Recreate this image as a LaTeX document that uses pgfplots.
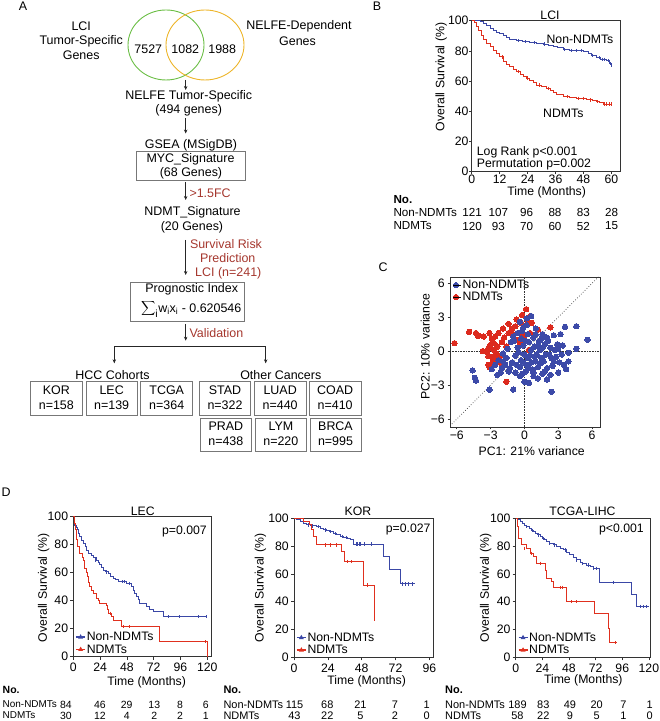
\documentclass[border=0pt]{standalone}
\usepackage{fontspec}
\setmainfont{Liberation Sans}
\usepackage{pgfplots}
\pgfplotsset{compat=1.18}
\usetikzlibrary{arrows.meta}
\definecolor{kmblue}{HTML}{3A47A6}
\definecolor{kmred}{HTML}{E0301E}
\definecolor{ptblue}{HTML}{3C4AA8}
\definecolor{ptred}{HTML}{DC2A1E}
\definecolor{vgreen}{HTML}{6BBE45}
\definecolor{vorange}{HTML}{EDB52A}
\definecolor{annot}{HTML}{A5372E}
\definecolor{boxgray}{HTML}{777777}
\newcommand\fs{\fontsize{12.3}{14}\selectfont}
\newcommand\fa{\fontsize{12.5}{14}\selectfont}
\newcommand\ft{\fontsize{11.7}{13}\selectfont}
\newcommand\ftl{\fontsize{10}{12}\selectfont}
\newcommand\ftn{\fontsize{10.5}{12}\selectfont}
\newcommand\ftk{\fontsize{11}{12}\selectfont}
\pgfplotsset{
  base/.style={scale only axis, axis line style={black!80, line width=0.6pt},
    tick style={black!80, line width=0.6pt}, tick align=outside, major tick length=2.5bp,
    tick pos=left, ticklabel style={font=\fs},
    /pgf/number format/assume math mode=true},
  km/.style={base, ymin=0, ymax=100, xmin=0, ytick={0,20,40,60,80,100}, clip=false,
    major tick length=3bp,
    xticklabel style={inner sep=3.5bp}, yticklabel style={inner sep=2bp},
    legend image code/.code={\draw[mark repeat=2,mark phase=2,##1] plot coordinates {(0bp,0bp)(4.5bp,0bp)(9bp,0bp)};},
    legend style={at={(0,0)}, anchor=south west, draw=none, fill=none, font=\fs,
      inner sep=0pt, row sep=0.5bp, nodes={inner sep=1bp}, xshift=2bp, yshift=1bp},
    legend cell align=left},
  pcaleg/.style={legend image code/.code={\draw[##1] plot coordinates {(2.6bp,0bp)}; \path (0bp,0bp) -- (8bp,0bp);},
    legend style={at={(0,1)}, anchor=north west, draw=none, fill=none, font=\fs,
      inner sep=0pt, row sep=0bp, nodes={inner sep=1bp}, xshift=3bp, yshift=-2bp},
    legend cell align=left},
  kmline/.style={const plot, line width=1bp, forget plot},
  cens/.style={only marks, mark=|, mark size=1.6bp, mark options={line width=0.7bp}, forget plot},
}
\begin{document}
\begin{tikzpicture}[font=\fs]
\path[use as bounding box] (0,0) rectangle (660bp,721bp);

% ---------------- Panel B ----------------
\begin{axis}[km, at={(471.7bp,549.3bp)}, anchor=south west, width=149bp, height=151bp,
  xmax=64, xtick={0,12,24,36,48,60}, major tick length=2.5bp,
  xticklabel style={inner sep=0.5bp}, yticklabel style={inner sep=0.5bp}]
\addplot[kmline,kmblue] coordinates {(0,100)(3.6,99.2)(5,98)(6.4,96.5)(8,95)(9.3,93.5)(10.7,92.5)(12,91.5)(13.6,90.5)(15,89)(16.4,87.5)(19.3,86.8)(22,86)(25,85.5)(28,85)(30.7,84.5)(33,83.5)(35,82.8)(37,82)(39.3,80.8)(42,80.2)(48,79.5)(50,78)(51.5,77)(53.6,75.5)(55.5,74.5)(58,73.5)(59,71.5)(60,69.5)};
\addplot[kmline,kmred] coordinates {(0,100)(1,99)(2,96)(2.9,93.5)(4,90)(5,87.5)(6.5,85)(7.9,83)(9.3,80.5)(10.7,78.5)(12,76)(13.6,73)(15,71)(16.4,69.5)(18,68)(19.3,66.2)(21,64.5)(22.1,63)(23.5,62)(25,60.7)(26.5,59)(27.9,57.4)(30,56.5)(32.1,55.2)(34,53.5)(35,52.5)(36.4,50.8)(39.3,49.7)(42,49.2)(45,48.6)(49.3,47.5)(52,47)(53.6,46.4)(55,45.5)(56.4,44.8)(60,44.8)};
\addplot[cens,kmblue] coordinates {(20,86.8)(23,86)(27,85.5)(31,84.5)(40,80.8)(43,80.2)(45,80.2)(47,80.2)(52,77)(55,75.5)(56,74.5)(57,74.5)(58.5,73.5)(59.5,71.5)};
\addplot[cens,kmred] coordinates {(13,76)(20,66.2)(24,62)(29,57.4)(33,55.2)(41,49.7)(46,48.6)(48,48.6)(51,47.5)(54,46.4)(57,44.8)(58,44.8)(59,44.8)(60,44.8)};
\end{axis}

% ---------------- Panel C ----------------
\begin{axis}[base, pcaleg, at={(450bp,294bp)}, anchor=south west, width=150bp, height=150bp,
  xmin=-6.6, xmax=6.7, ymin=-6.7, ymax=6.55,
  xticklabel style={inner sep=1.2bp}, yticklabel style={inner sep=2.5bp},
  xtick={-6,-3,0,3,6}, xticklabels={−6,−3,0,3,6},
  ytick={-6,-3,0,3,6}, yticklabels={−6,−3,0,3,6}]
\addplot[densely dotted, black!80, line width=0.6pt, forget plot] coordinates {(-6.6,0)(6.7,0)};
\addplot[densely dotted, black!80, line width=0.6pt, forget plot] coordinates {(0,-6.7)(0,6.55)};
\addplot[dotted, black!80, line width=0.7pt, forget plot] coordinates {(-6.6,-6.6)(6.55,6.55)};
\addplot[only marks, mark=*, mark size=2.7bp, mark options={fill=ptred, draw=ptred, line width=0pt}, forget plot] coordinates {
(-6.2,0.7)(-4.9,1.7)(-4.3,1.6)(-4.1,1.35)(-3.7,0)(-3.6,1.3)(-3.1,1.6)(-2.9,1.1)(-2.6,1.3)(-2.7,0.7)(-3.0,0.55)(-3.2,0.25)(-2.7,0.1)(-3.3,-0.1)(-2.5,-0.2)(-2.4,0.4)(-2.3,1.6)(-2.8,-0.5)(-3.2,-0.45)(-2.5,-0.6)(-2.1,-0.4)(-3.2,-1.2)(-2.8,-0.9)(-3.1,-1.4)(-2.2,-1.0)(-1.6,-2.7)(-1.4,2.4)(-1.1,2.0)(-0.8,2.2)(-0.7,2.8)(-0.5,1.6)(-0.2,3.2)(0.15,3.7)(0.5,3.1)(0.65,2.5)(0.3,2.5)(1.2,1.9)(2.3,2.1)(-0.4,0.7)(0.5,1.6)(-1.0,1.5)(-1.4,1.6)(-0.6,1.0)(0.4,0.1)(-1.8,1.2)(-2.0,0.8)(-1.6,0.4)(-0.3,2.5)(0.0,1.3)(-1.9,2.0)};
\addplot[only marks, mark=*, mark size=2.7bp, mark options={fill=ptblue, draw=ptblue, line width=0pt}, forget plot] coordinates {
(-4.6,-1.7)(-4.4,-2.35)(-4.3,-2.6)(-3.1,-3.4)(-1.0,-3.4)(0,-2.7)(0.4,-2.8)(2.4,-3.6)(2.3,-2.1)(3.0,-1.9)(3.7,-1.6)(3.9,-0.9)(3.9,-0.15)(4.6,0.2)(5.6,1.0)(4.6,2.2)(3.6,2.15)(3.2,1.5)(-2.9,-1.6)(-2.4,-2.1)(-2.1,-1.9)(-2.0,-1.5)(0.6,3.1)(-0.4,2.6)(0.2,2.3)(1.0,2.0)(1.6,1.5)(2.0,1.2)(2.6,1.4)(3.4,0.5)(3.3,-0.3)(3.5,-1.2)(2.8,-0.5)(2.5,-1.3)(2.0,-2.5)(1.6,-2.0)(1.2,-2.4)(0.8,-2.2)(-0.4,-2.2)(-0.8,-1.9)(-1.4,-1.8)(-1.7,-1.2)(-1.6,-0.6)(-1.5,0.2)(-1.2,0.8)(-1.0,1.3)(-0.6,1.6)(-0.2,1.8)(0.3,1.5)(0.8,1.2)(1.3,0.9)(1.8,0.6)(2.3,0.3)(2.2,-0.3)(1.7,-0.9)(1.2,-1.4)(0.7,-1.6)(0.2,-1.2)(-0.3,-0.8)(-0.8,-0.4)(-1.1,-1.0)(-0.6,0.3)(-0.1,0.5)(0.4,0.8)(0.9,0.4)(1.4,0.1)(1.9,-0.3)(1.5,-0.6)(1.0,-0.9)(0.5,-0.4)(0.0,-0.3)(-0.4,-1.4)(0.1,-1.8)(0.6,-1.0)(1.1,-0.3)(1.6,0.3)(2.6,-0.9)(2.9,0.6)(2.7,0.1)(3.1,-1.0)(-1.9,-0.2)(-2.3,-0.8)(-2.6,-1.2)(-1.3,-1.5)(-0.9,0.9)(-0.3,1.1)(0.6,0.1)(1.2,0.5)(0.3,-0.6)(0.9,-0.5)(-0.1,-1.0)(0.4,-1.5)(1.4,-1.1)(2.0,-1.5)(2.4,-0.6)(1.0,1.5)(1.5,1.1)(0.1,0.9)(-0.5,-0.1)(0.8,-1.9)(-0.7,-1.2)(-1.9,-0.9)(3.0,0.2)(2.1,0.9)(-0.2,-2.0)(1.8,-1.8)(0.2,2.9)(-0.1,2.1)};
\addlegendimage{only marks, mark=*, mark size=2.7bp, mark options={fill=ptblue, draw=ptblue, line width=0pt}}
\addlegendimage{only marks, mark=*, mark size=2.7bp, mark options={fill=ptred, draw=ptred, line width=0pt}}
\legend{Non-NDMTs,NDMTs}
\end{axis}

% ---------------- Panel D: LEC ----------------
\begin{axis}[km, at={(73.3bp,64.3bp)}, anchor=south west, width=138.4bp, height=140bp,
  xmax=124, xtick={0,24,48,72,96,120}]
\addplot[kmline,kmblue] coordinates {(0,100)(0.8,97)(1.5,94)(2.5,92)(3.6,90.5)(4.5,88)(6,85.7)(7.5,83)(9,81)(10.5,78.5)(12,76)(14,74)(16.4,72.6)(18.5,71)(20.9,69)(22.5,67)(23.9,65.5)(25.5,63.5)(26.9,61.9)(29,60.5)(31.3,59.5)(33.5,57.5)(35.8,56)(38,54.8)(40.3,53.6)(47.8,52.4)(52.2,50)(53.7,47.6)(55,45)(56.7,42.9)(58,40.5)(59.7,38)(65.7,35.7)(68,34)(71.6,32)(80.6,28.6)(120,28.6)};
\addplot[kmline,kmred] coordinates {(0,100)(1.2,95)(2.4,90.5)(3,84)(3.6,78.6)(6,73.8)(8,71)(9,69)(10.4,63)(11.5,60)(12.5,57)(13.8,53)(14.9,50)(16.5,47)(17.9,45.2)(20.9,41.7)(22.5,40)(23.9,38)(29.9,36.9)(30.5,33.5)(31.3,31)(34.3,28.6)(36,26.2)(43.3,21.4)(77,10.7)(120,0)};
\addplot[cens,kmblue] coordinates {(20,69)(30,60.5)(44,53.6)(46,53.6)(50,52.4)(85,28.6)(95,28.6)(112,28.6)(119,28.6)};
\addplot[cens,kmred] coordinates {(33,31)(45,21.4)(50,21.4)(118,10.7)};
\addlegendimage{kmblue, line width=1.3bp, mark=triangle*, mark size=1.6bp}
\addlegendimage{kmred, line width=1.3bp, mark=triangle*, mark size=1.6bp}
\legend{Non-NDMTs,NDMTs}
\end{axis}

% ---------------- Panel D: KOR ----------------
\begin{axis}[km, at={(294bp,63.7bp)}, anchor=south west, width=139.3bp, height=139bp,
  xmax=98.8, xtick={0,24,48,72,96}]
\addplot[kmline,kmblue] coordinates {(0,100)(2,99)(4.3,97.6)(6.5,96.5)(9,95.2)(12,94.5)(16,94)(18.5,92.5)(20.8,91.6)(23,91)(25.5,90.4)(28,89)(30.3,88)(33,87)(35,86.3)(38,85.5)(40,84.4)(42,81.5)(63.4,72.4)(68,63.5)(75.2,52.8)(85.8,52.8)};
\addplot[kmline,kmred] coordinates {(0,100)(6.6,97.6)(11.3,95.2)(12.5,91.6)(13.7,86.8)(16,80.8)(34,76)(35.5,68.8)(49.2,52)(57,26.4)};
\addplot[cens,kmblue] coordinates {(10,95.2)(13,94.5)(17,94)(22,91.6)(26,90.4)(29,89)(34,87)(37,86.3)(44,81.5)(45,81.5)(46,81.5)(47,81.5)(50,81.5)(55,81.5)(77,52.8)(79,52.8)(81,52.8)(84,52.8)};
\addplot[cens,kmred] coordinates {(22,80.8)(26,80.8)(30,80.8)(38,68.8)(41,68.8)(52,52)};
\addlegendimage{kmblue, line width=1.3bp, mark=triangle*, mark size=1.6bp}
\addlegendimage{kmred, line width=1.3bp, mark=triangle*, mark size=1.6bp}
\legend{Non-NDMTs,NDMTs}
\end{axis}

% ---------------- Panel D: TCGA ----------------
\begin{axis}[km, at={(515.7bp,63.7bp)}, anchor=south west, width=134.3bp, height=139bp,
  xmax=121, xtick={0,24,48,72,96,120}]
\addplot[kmline,kmblue] coordinates {(0,100)(2,99)(3.9,97.6)(6,96.5)(8,95)(9.9,94)(12,93)(14,91.5)(15.9,90.4)(18,89)(20,88)(21.9,86.8)(24,85.5)(26,84.5)(27.9,83.2)(30,82)(33.9,80.8)(37,79.5)(40,78.5)(42.9,77.2)(46,75.5)(48.9,73.6)(52,72)(54.9,70)(58,68.5)(60,67.2)(63.9,66.4)(67,65)(69.9,64)(75.9,54)(104.4,45)(108.9,36.5)(120,36.5)};
\addplot[kmline,kmred] coordinates {(0,100)(1.5,94)(2.7,85.6)(5.4,80.8)(9.9,78.4)(12.9,74.8)(15.9,72.4)(18.9,67.6)(26.4,62.8)(27.9,56.8)(32.4,54.4)(33.9,50.4)(45.9,40)(71.4,31.6)(83.4,20.8)(84.9,10.5)(90.9,10.5)};
\addplot[cens,kmblue] coordinates {(10,94)(15,91.5)(20,88)(25,85.5)(30,82)(35,80.8)(45,77.2)(55,70)(60,67.2)(65,66.4)(70,64)(73,64)(88,54)(112,36.5)(115,36.5)(118,36.5)};
\addplot[cens,kmred] coordinates {(8,78.4)(14,74.8)(22,67.6)(40,50.4)(42,50.4)(50,40)(55,40)(90,10.5)};
\addlegendimage{kmblue, line width=1.3bp, mark=triangle*, mark size=1.6bp}
\addlegendimage{kmred, line width=1.3bp, mark=triangle*, mark size=1.6bp}
\legend{Non-NDMTs,NDMTs}
\end{axis}

% ---------------- Text and flowchart (pixel coordinates, y downward) ----------------
\begin{scope}[x=1bp, y=-1bp, yshift=721bp, every node/.style={inner sep=0pt}]
\node[font=\fa] at (23,6.5) {A};
\node[font=\fa] at (377,6.5) {B};
\node[font=\fa] at (383,267) {C};
\node[font=\fa] at (6,492) {D};

\draw[vgreen, line width=0.9bp] (166,45) ellipse [x radius=38bp, y radius=35bp];
\draw[vorange, line width=0.9bp] (205,45) ellipse [x radius=39bp, y radius=35bp];
\node[font=\fa] at (148.3,49.5) {7527};
\node[font=\fa] at (185.3,49.5) {1082};
\node[font=\fa] at (222.2,49.5) {1988};
\node[font=\fa] at (81.2,26.7) {LCI};
\node[font=\fa] at (81.2,41.7) {Tumor-Specific};
\node[font=\fa] at (81.2,55.5) {Genes};
\node[font=\fa] at (299,26.7) {NELFE-Dependent};
\node[font=\fa] at (297.5,41.7) {Genes};

\tikzset{arr/.style={-{Stealth[length=4bp,width=3.5bp]}, line width=0.5bp, black!85}}
\draw[arr] (185.7,80) -- (185.7,90);
\node[font=\fa] at (188.7,96.7) {NELFE Tumor-Specific};
\node[font=\fa] at (188.7,110.5) {(494 genes)};
\draw[arr] (185.7,118.3) -- (185.7,133.5);
\node[font=\fa] at (191,145) {GSEA (MSigDB)};
\draw[boxgray, line width=0.8bp] (136.7,151.7) rectangle (245.7,180);
\node[font=\fa] at (190.5,159) {MYC\_Signature};
\node[font=\fa] at (191,173.3) {(68 Genes)};
\draw[arr] (185.7,182) -- (185.7,200);
\node[font=\fa, text=annot, anchor=west] at (189.3,193.3) {>1.5FC};
\node[font=\fa] at (192.5,212.3) {NDMT\_Signature};
\node[font=\fa] at (192,227.7) {(20 Genes)};
\draw[arr] (185.7,240) -- (185.7,275);
\node[font=\fa, text=annot] at (226,244.3) {Survival Risk};
\node[font=\fa, text=annot] at (227.7,258.3) {Prediction};
\node[font=\fa, text=annot] at (228.3,273.3) {LCI (n=241)};
\draw[boxgray, line width=0.8bp] (130,282.3) rectangle (244.3,321);
\node[font=\fa] at (191.7,289.3) {Prognostic Index};
\node[font=\fa] at (191.2,308.8) {\fontsize{15}{15}\selectfont$\displaystyle\sum\nolimits_{\mathrm{i}}$\fa w\textsubscript{i}x\textsubscript{i} - 0.620546};
\draw[arr] (185.7,324) -- (185.7,340.7);
\node[font=\fa, text=annot, anchor=west] at (189.3,332.7) {Validation};
\draw[line width=0.5bp, black!85] (114.3,346.7) -- (265.7,346.7);
\draw[arr] (114.3,346.7) -- (114.3,363.3);
\draw[arr] (265.7,346.7) -- (265.7,363.3);
\node[font=\fa] at (112.5,375) {HCC Cohorts};
\node[font=\fa] at (280.8,375) {Other Cancers};
\foreach \xa/\xb/\na/\nb in {30.7/82/KOR/158, 86/137.3/LEC/139, 140.7/192.7/TCGA/364, 199.3/250.7/STAD/322, 254.3/306/LUAD/440, 309.3/361/COAD/410}{
  \draw[boxgray, line width=0.8bp] (\xa,381.7) rectangle (\xb,415);
  \node[font=\fa] at ({(\xa+\xb)/2},390) {\na};
  \node[font=\fa] at ({(\xa+\xb)/2},405) {n=\nb};
}
\foreach \xa/\xb/\na/\nb in {200/251.7/PRAD/438, 255/306.7/LYM/220, 310/361/BRCA/995}{
  \draw[boxgray, line width=0.8bp] (\xa,418.3) rectangle (\xb,451.7);
  \node[font=\fa] at ({(\xa+\xb)/2},426.7) {\na};
  \node[font=\fa] at ({(\xa+\xb)/2},441.7) {n=\nb};
}

\node at (550,15) {LCI};
\node[rotate=90] at (441.3,77) {Overall Survival (\%)};
\node at (546.7,192.7) {Time (Months)};
\node at (580,39) {Non-NDMTs};
\node at (563.3,113.3) {NDMTs};
\node[anchor=west] at (476.7,152.3) {Log Rank p<0.001};
\node[anchor=west] at (476.7,164.3) {Permutation p=0.002};
\node[font=\ft\bfseries, anchor=west] at (393.3,199.3) {No.};
\node[font=\ft, anchor=west] at (393.3,212.3) {Non-NDMTs};
\node[font=\ft, anchor=west] at (393.3,226) {NDMTs};
\foreach \x/\a/\b in {472.2/121/120, 498.3/107/93, 526.7/96/70, 555/88/60, 583.3/83/52, 611.7/28/15}{
  \node[font=\ft] at (\x,212.3) {\a};
  \node[font=\ft] at (\x,226) {\b};
}

\node[rotate=90] at (425.3,346.5) {PC2: 10\% variance};
\node at (531.7,450.7) {PC1: 21\% variance};

\node at (142.8,511) {LEC};
\node at (358,511) {KOR};
\node at (582.5,511) {TCGA-LIHC};
\node[anchor=east] at (207,531.7) {p=0.007};
\node[anchor=east] at (430.7,530) {p=0.027};
\node[anchor=east] at (644,530) {p<0.001};
\node[rotate=90] at (43.7,588) {Overall Survival (\%)};
\node[rotate=90] at (260.5,588) {Overall Survival (\%)};
\node[rotate=90] at (485.8,588) {Overall Survival (\%)};
\node at (146.7,682) {Time (Months)};
\node at (366.7,681.7) {Time (Months)};
\node at (583.3,680.7) {Time (Months)};
% risk tables
\node[font=\ftn\bfseries, anchor=west] at (2.5,690) {No.};
\node[font=\ftl, anchor=west] at (2.5,704.5) {Non-NDMTs};
\node[font=\ftl, anchor=west] at (2.5,715.5) {NDMTs};
\foreach \x in {223.3, 445}{
  \node[font=\ftk\bfseries, anchor=west] at (\x,690) {No.};
  \node[font=\ftk, anchor=west] at (\x,704.5) {Non-NDMTs};
  \node[font=\ftk, anchor=west] at (\x,715.5) {NDMTs};
}
\foreach \x/\a/\b in {66/84/30, 100/46/12, 126.7/29/4, 154.3/13/2, 180/8/2, 205.7/6/1}{
  \node[font=\ftn] at (\x,704.5) {\a};
  \node[font=\ftn] at (\x,715.5) {\b};
}
\foreach \x/\a/\b in {294.5/115/43, 327.3/68/22, 360.5/21/5, 395/7/2, 426.7/1/0}{
  \node[font=\ftk] at (\x,704.5) {\a};
  \node[font=\ftk] at (\x,715.5) {\b};
}
\foreach \x/\a/\b in {517.5/189/58, 543.3/83/22, 570/49/9, 596.7/20/5, 623.3/7/1, 649.7/1/0}{
  \node[font=\ftk] at (\x,704.5) {\a};
  \node[font=\ftk] at (\x,715.5) {\b};
}
\end{scope}
\end{tikzpicture}
\end{document}
